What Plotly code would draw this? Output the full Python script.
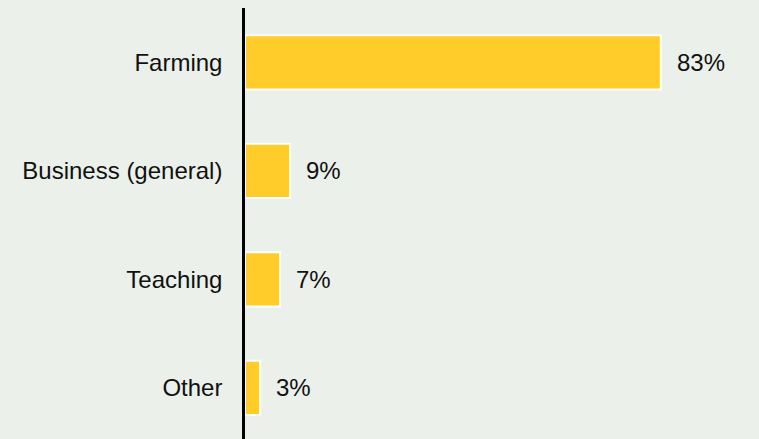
import plotly.graph_objects as go

categories = ["Farming", "Business (general)", "Teaching", "Other"]
values = [83, 9, 7, 3]
labels = ["83%", "9%", "7%", "3%"]

BG = "#EBF0EA"
BAR = "#FFCC29"
FONT = "Liberation Sans, Arial, sans-serif"

fig = go.Figure(
    go.Bar(
        y=categories,
        x=values,
        orientation="h",
        marker=dict(color=BAR, line=dict(color="white", width=2)),
        width=0.5,
        hoverinfo="skip",
    )
)

for c, v, t in zip(categories, values, labels):
    fig.add_annotation(
        x=v, y=c, text=t, showarrow=False, xanchor="left", xshift=14,
        font=dict(family=FONT, size=24, color="#111111"),
    )

fig.update_layout(
    width=759,
    height=439,
    margin=dict(l=245, r=0, t=8, b=0),
    paper_bgcolor=BG,
    plot_bgcolor=BG,
    showlegend=False,
    font=dict(family=FONT, size=24, color="#111111"),
    xaxis=dict(range=[0, 102.6], visible=False, showgrid=False, zeroline=False),
    yaxis=dict(
        categoryorder="array",
        categoryarray=categories,
        range=[3.472, -0.5],
        showline=True,
        linecolor="#000000",
        linewidth=2.5,
        showgrid=False,
        zeroline=False,
        ticks="outside",
        ticklen=15,
        tickcolor="rgba(0,0,0,0)",
        tickfont=dict(family=FONT, size=24, color="#111111"),
    ),
)

fig.write_html(
    "out.html",
    config={"displayModeBar": False},
    post_script="document.body.style.margin='0';document.body.style.overflow='hidden';",
)
